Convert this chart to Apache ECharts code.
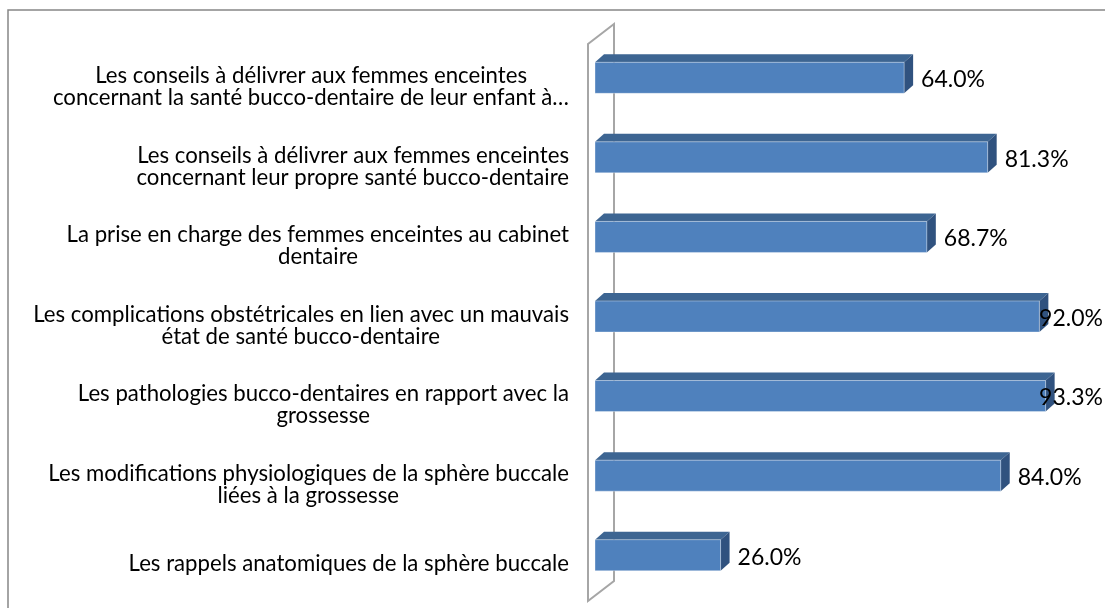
<!DOCTYPE html>
<html><head><meta charset="utf-8">
<script src="https://cdn.jsdelivr.net/npm/echarts@6/dist/echarts.min.js"></script>
<style>html,body{margin:0;padding:0;background:#fff}#c{width:1105px;height:608px}</style>
</head><body><div id="c"></div>
<script>
const categories = [
  "Les conseils à délivrer aux femmes enceintes\nconcernant la santé bucco-dentaire de leur enfant à…",
  "Les conseils à délivrer aux femmes enceintes\nconcernant leur propre santé bucco-dentaire",
  "La prise en charge des femmes enceintes au cabinet\ndentaire",
  "Les complications obstétricales en lien avec un mauvais\nétat de santé bucco-dentaire",
  "Les pathologies bucco-dentaires en rapport avec la\ngrossesse",
  "Les modifications physiologiques de la sphère buccale\nliées à la grossesse",
  "Les rappels anatomiques de la sphère buccale"
];
const values = [64.0, 81.3, 68.7, 92.0, 93.3, 84.0, 26.0];

const FONT = 'Lato';
const VAL_SIZE = 23;
const ctx = document.createElement('canvas').getContext('2d');
function measure(t, size){ ctx.font = size + 'px ' + FONT; return ctx.measureText(t).width; }
// category font size chosen so the first line spans about 432px, as in the picture
const CAT_SIZE = Math.round(432 / measure("Les conseils à délivrer aux femmes enceintes", 100) * 100 * 10) / 10;

const rich = {};
categories.forEach((c, i) => {
  const lines = c.split('\n');
  const widths = lines.map(l => measure(l, CAT_SIZE));
  const w = Math.max(...widths);
  lines.forEach((l, j) => {
    rich['c' + i + '_' + j] = {fontSize: CAT_SIZE, fontFamily: FONT, color: '#000', lineHeight: 22,
      padding: [0, Math.round((w - widths[j]) / 2), 0, 0]};
  });
});

const GRID = {left: 595, right: 27, top: 38, bottom: 13};
const DX = 9, DY = 8;

const chart = echarts.init(document.getElementById('c'), null, {renderer: 'canvas'});
chart.setOption({
  animation: false,
  backgroundColor: '#fff',
  grid: GRID,
  xAxis: {type: 'value', min: 0, max: 100, show: false},
  yAxis: {
    type: 'category', data: categories, inverse: true,
    axisLine: {show: false}, axisTick: {show: false}, splitLine: {show: false},
    axisLabel: {
      margin: 26,
      padding: [18, 0, 0, 0],
      formatter: (v, i) => v.split('\n').map((l, j) => '{c' + i + '_' + j + '|' + l + '}').join('\n'),
      rich: rich
    }
  },
  graphic: [
    {type: 'rect', z: 0, shape: {x: 8, y: 10, width: 1300, height: 800}, style: {fill: 'none', stroke: '#878787', lineWidth: 1.5}},
    {type: 'polygon', z: 0, shape: {points: [[588, 44], [614, 24], [614, 581], [588, 601]]}, style: {fill: 'none', stroke: '#A6A6A6', lineWidth: 2}}
  ],
  series: [{
    type: 'custom',
    z: 5,
    data: values.map((v, i) => [v, i]),
    encode: {x: 0, y: 1},
    renderItem: (params, api) => {
      const v = api.value(0), idx = api.value(1);
      const p0 = api.coord([0, idx]);
      const p1 = api.coord([v, idx]);
      const band = api.size([0, 1])[1];
      const h = band * 0.39;
      const x0 = p0[0], x1 = p1[0], yT = p0[1] - h / 2, yB = p0[1] + h / 2;
      const text = v.toFixed(1) + '%';
      const tw = measure(text, VAL_SIZE);
      const tx = Math.min(x1 + DX + 8, api.getWidth() - 2 - tw);
      return {type: 'group', children: [
        {type: 'polygon', shape: {points: [[x0, yT], [x0 + DX, yT - DY], [x1 + DX, yT - DY], [x1, yT]]}, style: {fill: '#3D6592'}},
        {type: 'polygon', shape: {points: [[x1, yT], [x1 + DX, yT - DY], [x1 + DX, yB - DY], [x1, yB]]}, style: {fill: '#30527F'}},
        {type: 'rect', shape: {x: x0, y: yT, width: x1 - x0, height: h}, style: {fill: '#4F81BD', stroke: 'rgba(255,255,255,0.35)', lineWidth: 1}},
        {type: 'text', z2: 10, x: tx, y: p0[1] + 2, style: {text: text, fontSize: VAL_SIZE, fontFamily: FONT, fill: '#000', align: 'left', verticalAlign: 'middle'}}
      ]};
    }
  }]
});
</script></body></html>
